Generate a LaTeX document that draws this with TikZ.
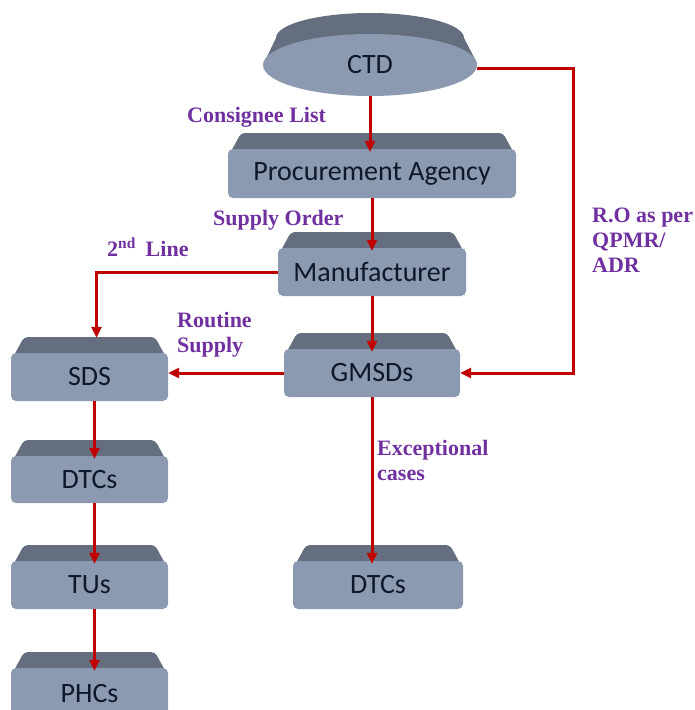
\documentclass[tikz,border=0pt]{standalone}
\usepackage{fontspec}
\setmainfont{Liberation Serif}
\newfontfamily\boxfont{Carlito}
\usetikzlibrary{arrows.meta,shapes.geometric}

\definecolor{facecol}{RGB}{139,154,176}
\definecolor{bevelcol}{RGB}{100,110,126}
\definecolor{boxtext}{RGB}{14,24,42}
\definecolor{flowred}{RGB}{192,0,0}
\definecolor{notepurple}{RGB}{112,48,160}

\tikzset{
  face/.style={rectangle, rounded corners=5pt, fill=facecol, inner sep=0pt,
    text=boxtext, font=\boxfont\fontsize{28}{30}\selectfont},
  bevel/.style={fill=bevelcol, rounded corners=4pt},
  flow/.style={draw=flowred, line width=3pt, -{Triangle[length=11pt,width=10pt]}},
  into/.style={shorten >=-3pt},
  note/.style={text=notepurple, font=\fontsize{22}{25}\selectfont\bfseries,
    align=left, inner sep=0pt, anchor=base west},
}

% bevelled box: name, left, top, right, bottom, text
\newcommand\bevelbox[6]{%
  \pgfmathsetmacro\bw{#4-#2}%
  \pgfmathsetmacro\bh{#5-#3-16}%
  \fill[bevel] (#2,#3+24) -- (#2+13,#3) -- (#4-13,#3) -- (#4,#3+24) -- cycle;
  \node[face, minimum width=\bw pt, minimum height=\bh pt] (#1)
    at ({(#2+#4)/2},{(#3+16+#5)/2}) {#6};
}

\begin{document}
\begin{tikzpicture}[x=1pt,y=-1pt]
\useasboundingbox (0,0) rectangle (695,710);
\clip (0,0) rectangle (695,710);

% CTD disk: sloped dark rim behind the light face
\fill[bevelcol] (264,63) -- (276,38)
  arc[start angle=180, end angle=0, x radius=94pt, y radius=25pt]
  -- (477,63) -- cycle;
\node[ellipse, fill=facecol, minimum width=214pt, minimum height=62pt, inner sep=0pt,
  text=boxtext, font=\boxfont\fontsize{28}{30}\selectfont] (CTD) at (370,65) {CTD};

% boxes
\bevelbox{PA}{228}{133}{516}{198}{Procurement Agency}
\bevelbox{MAN}{278}{232}{466}{296}{Manufacturer}
\bevelbox{GMSD}{284}{333}{460}{397}{GMSDs}
\bevelbox{SDS}{11}{337}{168}{401}{SDS}
\bevelbox{DTCL}{11}{440}{168}{503}{DTCs}
\bevelbox{TU}{11}{545}{168}{609}{TUs}
\bevelbox{PHC}{11}{652}{168}{720}{PHCs}
\bevelbox{DTCR}{293}{545}{463}{609}{DTCs}

% main chain
\draw[flow,into] (CTD.south) -- (CTD.south |- PA.north);
\draw[flow,into] (PA.south) -- (PA.south |- MAN.north);
\draw[flow,into] (MAN.south) -- (MAN.south |- GMSD.north);
\draw[flow,into] (GMSD.south) -- (GMSD.south |- DTCR.north);

% release order rail
\coordinate (rail) at (573,200);
\draw[flow] ([yshift=-3pt]CTD.east) -| (rail) |- (GMSD.east);

% routine supply and second line
\draw[flow] (GMSD.west) -- (GMSD.west -| SDS.east);
\draw[flow] (MAN.west) -| ([xshift=7pt,yshift=15pt]SDS.north);

% left column
\draw[flow,into] ([xshift=5pt]SDS.south) -- ([xshift=5pt]DTCL.north);
\draw[flow,into] ([xshift=5pt]DTCL.south) -- ([xshift=5pt]TU.north);
\draw[flow,into] ([xshift=5pt]TU.south) -- ([xshift=5pt]PHC.north);

% labels (multi-line ones sit on their last baseline)
\node[note] (lblCL) at (187,122) {Consignee List};
\node[note] (lblSO) at (213,225) {Supply Order};
\node[note] (lbl2L) at (107,256) {2\textsuperscript{nd}\hspace{0.45em}Line};
\node[note] (lblRS) at (177,352) {Routine\\Supply};
\node[note] (lblRO) at (592,272) {R.O as per\\QPMR/\\ADR};
\node[note] (lblEC) at (377,480) {Exceptional\\cases};
\end{tikzpicture}
\end{document}
